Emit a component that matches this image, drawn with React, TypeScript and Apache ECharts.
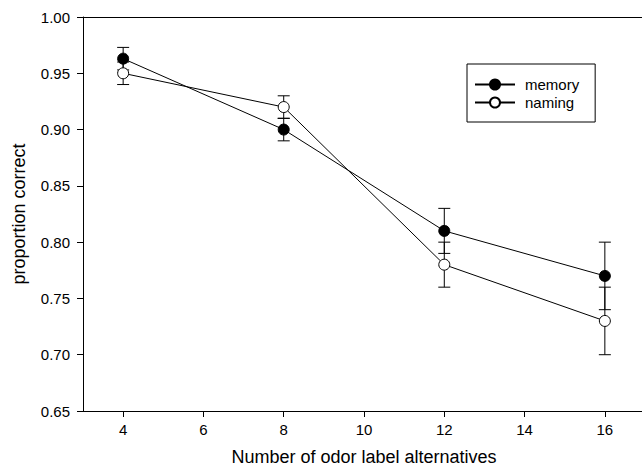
import React, { useEffect, useRef } from "react";
import * as echarts from "echarts";

const xValues = [4, 8, 12, 16];
const memoryMean = [0.963, 0.9, 0.81, 0.77];
const memoryLow = [0.953, 0.89, 0.79, 0.74];
const memoryHigh = [0.973, 0.91, 0.83, 0.8];
const namingMean = [0.95, 0.92, 0.78, 0.73];
const namingLow = [0.94, 0.91, 0.76, 0.7];
const namingHigh = [0.96, 0.93, 0.8, 0.76];
const xTicks = [4, 6, 8, 10, 12, 14, 16];

const FONT = "'Liberation Sans', Arial, Helvetica, sans-serif";

function errorSeries(name: string, low: number[], high: number[]) {
  return {
    type: "custom",
    name: name + "-err",
    z: 1,
    silent: true,
    data: xValues.map((x, i) => [x, low[i], high[i]]),
    renderItem: (params: any, api: any) => {
      const x = api.value(0);
      const top = api.coord([x, api.value(2)]);
      const bot = api.coord([x, api.value(1)]);
      const w = 6;
      const style = { stroke: "#000", lineWidth: 1 };
      return {
        type: "group",
        children: [
          { type: "line", shape: { x1: top[0], y1: top[1], x2: bot[0], y2: bot[1] }, style },
          { type: "line", shape: { x1: top[0] - w, y1: top[1], x2: top[0] + w, y2: top[1] }, style },
          { type: "line", shape: { x1: bot[0] - w, y1: bot[1], x2: bot[0] + w, y2: bot[1] }, style },
        ],
      };
    },
  };
}

export default function App() {
  const ref = useRef<HTMLDivElement>(null);
  useEffect(() => {
    if (!ref.current) return;
    const chart = echarts.init(ref.current, null, { renderer: "svg" });
    chart.setOption({
      animation: false,
      backgroundColor: "#fff",
      textStyle: { fontFamily: FONT, color: "#000" },
      grid: {
        left: 83,
        top: 17,
        width: 562,
        height: 394,
        outerBoundsMode: "none",
        containLabel: false,
        show: false,
      },
      legend: {
        left: 467,
        top: 64,
        orient: "vertical",
        itemWidth: 40,
        itemHeight: 12.5,
        itemGap: 3,
        padding: [13, 16, 12, 7],
        borderColor: "#000",
        borderWidth: 1,
        data: ["memory", "naming"],
        textStyle: { fontFamily: FONT, fontSize: 15, color: "#000", lineHeight: 15, padding: [0, 0, 0, 5] },
      },
      xAxis: [
        {
          type: "value",
          min: 3,
          max: 17,
          name: "Number of odor label alternatives",
          nameLocation: "middle",
          nameGap: 37,
          nameTextStyle: { fontFamily: FONT, fontSize: 18, color: "#000" },
          axisLine: { show: true, lineStyle: { color: "#000", width: 1 } },
          axisTick: { show: true, length: 6, inside: false, lineStyle: { color: "#000" }, customValues: xTicks },
          axisLabel: { fontFamily: FONT, fontSize: 15, color: "#000", margin: 11, customValues: xTicks },
          splitLine: { show: false },
        },
        {
          type: "value",
          position: "top",
          min: 3,
          max: 17,
          axisLine: { show: true, onZero: false, lineStyle: { color: "#000", width: 1 } },
          axisTick: { show: false },
          axisLabel: { show: false },
          splitLine: { show: false },
        },
      ],
      yAxis: {
        type: "value",
        min: 0.65,
        max: 1.0,
        interval: 0.05,
        name: "proportion correct",
        nameLocation: "middle",
        nameGap: 55,
        nameTextStyle: { fontFamily: FONT, fontSize: 18, color: "#000" },
        axisLine: { show: true, onZero: false, lineStyle: { color: "#000", width: 1 } },
        axisTick: { show: true, length: 6, inside: false, lineStyle: { color: "#000" } },
        axisLabel: {
          fontFamily: FONT,
          fontSize: 15,
          color: "#000",
          margin: 13,
          formatter: (v: number) => v.toFixed(2),
        },
        splitLine: { show: false },
      },
      series: [
        errorSeries("memory", memoryLow, memoryHigh),
        errorSeries("naming", namingLow, namingHigh),
        {
          type: "line",
          name: "memory",
          z: 3,
          data: xValues.map((x, i) => [x, memoryMean[i]]),
          symbol: "circle",
          symbolSize: 11,
          itemStyle: { color: "#000", borderColor: "#000", borderWidth: 1 },
          lineStyle: { color: "#000", width: 1 },
        },
        {
          type: "line",
          name: "naming",
          z: 3,
          data: xValues.map((x, i) => [x, namingMean[i]]),
          symbol: "circle",
          symbolSize: 11,
          itemStyle: { color: "#fff", borderColor: "#000", borderWidth: 1 },
          lineStyle: { color: "#000", width: 1 },
        },
      ],
    });
    return () => chart.dispose();
  }, []);
  return (
    <div style={{ position: "fixed", left: 0, top: 0, width: 642, height: 469, overflow: "hidden", background: "#fff" }}>
      <div ref={ref} style={{ width: 680, height: 469 }} />
    </div>
  );
}
